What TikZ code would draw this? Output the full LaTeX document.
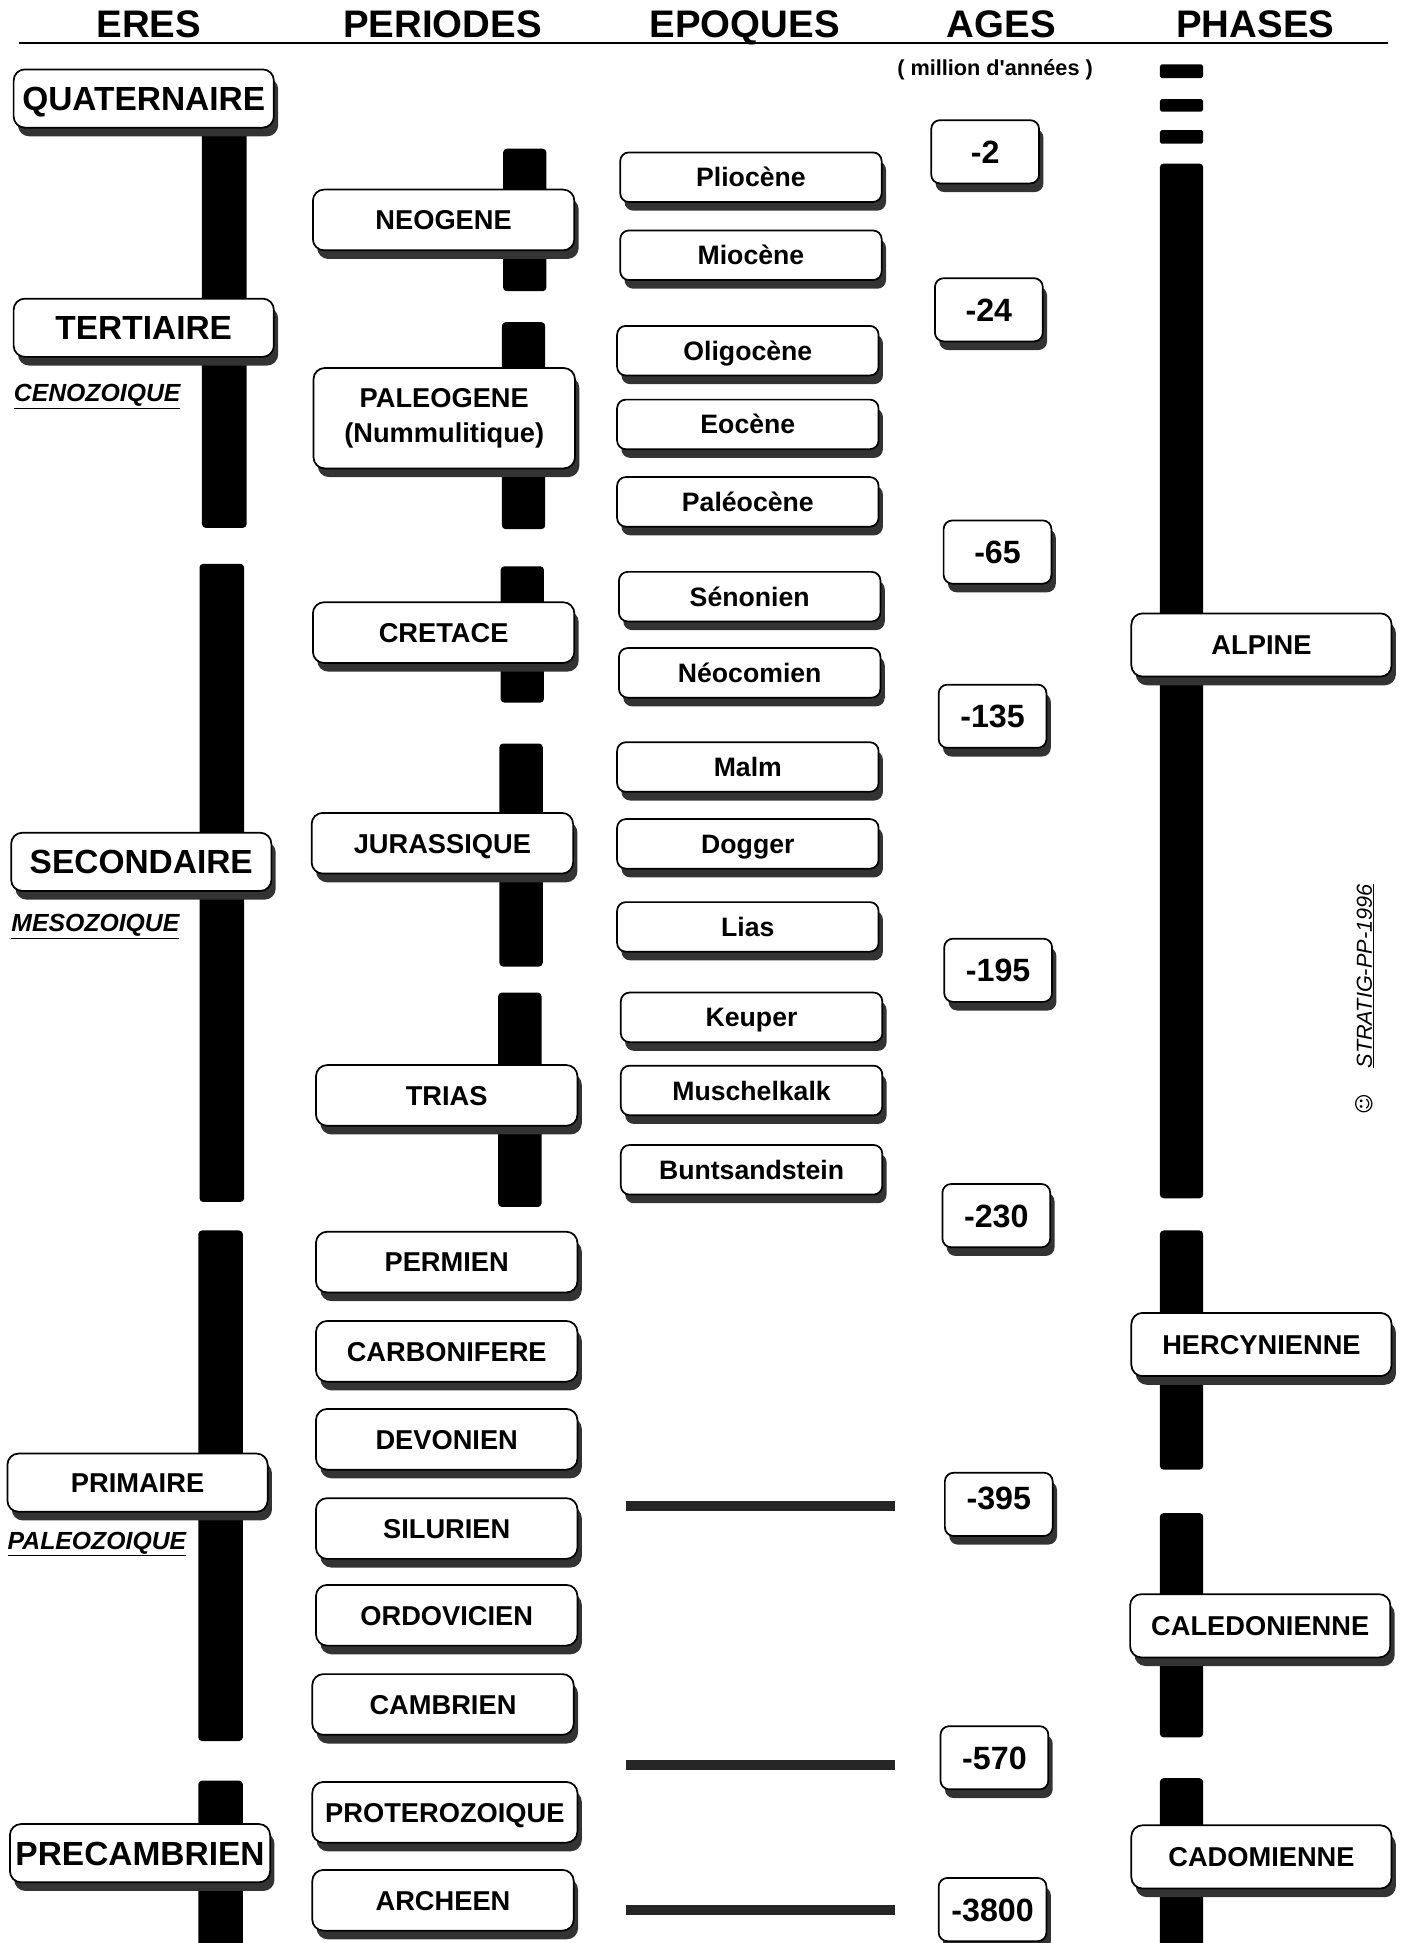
\documentclass[tikz,border=0pt]{standalone}
\usepackage{fontspec}
\setmainfont{Liberation Sans}
\newfontfamily\djv{DejaVu Sans}
\usetikzlibrary{shadows}
\newcommand{\fsz}[1]{\fontsize{#1}{#1}\selectfont}
\tikzset{
  bx/.style={draw=black, line width=1.4pt, fill=white, rounded corners=9pt,
    inner sep=0pt, align=center, text depth=0pt,
    drop shadow={shadow xshift=3.5pt, shadow yshift=-7pt, opacity=1, fill=black!80}},
  erabox/.style={bx, minimum width=210pt, minimum height=47pt, font=\bfseries\fsz{27}, text height=19.3pt},
  perbox/.style={bx, minimum width=211pt, minimum height=49pt, font=\bfseries\fsz{22}, text height=15.75pt},
  epobox/.style={bx, minimum width=211pt, minimum height=40pt, font=\bfseries\fsz{21.5}, text height=15.4pt, rounded corners=7pt},
  agebox/.style={bx, minimum width=87pt, minimum height=51pt, font=\bfseries\fsz{26}, text height=18.6pt, rounded corners=7pt},
  phabox/.style={bx, minimum width=210pt, minimum height=51pt, font=\bfseries\fsz{22}, text height=15.75pt},
  hdr/.style={font=\bfseries\fsz{31}, inner sep=0pt, text height=22.2pt, text depth=0pt},
  sub/.style={font=\bfseries\itshape\fsz{20}, anchor=west, inner sep=0pt},
  vbar/.style={fill=black, rounded corners=3pt},
  hbar/.style={fill=black!85},
}
\begin{document}
\begin{tikzpicture}[x=1pt,y=-1pt]
\useasboundingbox[fill=white] (0,0) rectangle (1132,1568);

% headers
\node[hdr] (hEres) at (120,19.5) {ERES};
\node[hdr] (hPer) at (357,19.5) {PERIODES};
\node[hdr] (hEpo) at (601,19.5) {EPOQUES};
\node[hdr] (hAge) at (808,19.5) {AGES};
\node[hdr] (hPha) at (1013,19.5) {PHASES};
\draw[line width=1.6pt] (15,34.5) -- (1120,34.5);
\node[font=\bfseries\fsz{17.5}, inner sep=0pt] (mill) at (803,56) {( million d\textquotesingle années )};

% ---- ERES bars
\fill[vbar] (163,100) rectangle (199,426);
\fill[vbar] (161,455) rectangle (197,970);
\fill[vbar] (160,993) rectangle (196,1405);
\fill[vbar] (160,1437) rectangle (196,1575);

% ---- PERIODES bars
\fill[vbar] (406,120) rectangle (441,235);
\fill[vbar] (405,260) rectangle (440,427);
\fill[vbar] (404,457) rectangle (439,567);
\fill[vbar] (403,600) rectangle (438,780);
\fill[vbar] (402,801) rectangle (437,974);

% ---- PHASES bars
\fill[vbar, rounded corners=1.5pt] (936,52) rectangle (971,63);
\fill[vbar, rounded corners=1.5pt] (936,80) rectangle (971,90);
\fill[vbar, rounded corners=1.5pt] (936,105) rectangle (971,116);
\fill[vbar] (936,132) rectangle (971,967);
\fill[vbar] (936,993) rectangle (971,1186);
\fill[vbar] (936,1221) rectangle (971,1402);
\fill[vbar] (936,1435) rectangle (971,1575);

% ---- horizontal bars in EPOQUES column
\fill[hbar] (505,1211) rectangle (722,1219);
\fill[hbar] (505,1420) rectangle (722,1428);
\fill[hbar] (505,1537) rectangle (722,1545);

% ---- ERES boxes
\node[erabox] (quat) at (116,79.5) {QUATERNAIRE};
\node[erabox] (tert) at (116,264.5) {TERTIAIRE};
\node[erabox] (seco) at (114,695.5) {SECONDAIRE};
\node[erabox, font=\bfseries\fsz{22}, text height=15.75pt] (prim) at (111,1196.5) {PRIMAIRE};
\node[erabox] (prec) at (113,1495.5) {PRECAMBRIEN};
\node[sub] (ceno) at (11,320) {\underline{CENOZOIQUE}};
\node[sub] (meso) at (9,748) {\underline{MESOZOIQUE}};
\node[sub] (paleo) at (6,1246) {\underline{PALEOZOIQUE}};

% ---- PERIODES boxes
\node[perbox] (neog) at (358,177.5) {NEOGENE};
\node[perbox, minimum height=81pt, text height=, text depth=] (paleog) at (358.5,337.5) {PALEOGENE\\[6pt](Nummulitique)};
\node[perbox] (cret) at (358,510.5) {CRETACE};
\node[perbox] (jura) at (357,680.5) {JURASSIQUE};
\node[perbox] (trias) at (360.5,884) {TRIAS};
\node[perbox] (perm) at (360.5,1018.5) {PERMIEN};
\node[perbox] (carb) at (360.5,1090.5) {CARBONIFERE};
\node[perbox] (devo) at (360.5,1161.5) {DEVONIEN};
\node[perbox] (silu) at (360.5,1233.5) {SILURIEN};
\node[perbox] (ordo) at (360.5,1303.5) {ORDOVICIEN};
\node[perbox] (camb) at (357.5,1375.5) {CAMBRIEN};
\node[perbox, minimum width=214pt] (prot) at (359,1462.5) {PROTEROZOIQUE};
\node[perbox] (arch) at (357.5,1533.5) {ARCHEEN};

% ---- EPOQUES boxes
\node[epobox] (plio) at (606,143) {Pliocène};
\node[epobox] (mio) at (606,206) {Miocène};
\node[epobox] (oligo) at (603.5,283) {Oligocène};
\node[epobox] (eoc) at (603.5,342.5) {Eocène};
\node[epobox] (paleoc) at (603.5,405) {Paléocène};
\node[epobox] (seno) at (605,481.5) {Sénonien};
\node[epobox] (neoc) at (605,543) {Néocomien};
\node[epobox] (malm) at (603.5,619) {Malm};
\node[epobox] (dogg) at (603.5,681) {Dogger};
\node[epobox] (lias) at (603.5,748) {Lias};
\node[epobox] (keup) at (606.5,821) {Keuper};
\node[epobox] (musch) at (606.5,880) {Muschelkalk};
\node[epobox] (bunt) at (606.5,944) {Buntsandstein};

% ---- AGES boxes
\node[agebox] (a2) at (795,122.5) {-2};
\node[agebox] (a24) at (798,250) {-24};
\node[agebox] (a65) at (805,445.5) {-65};
\node[agebox] (a135) at (801,578) {-135};
\node[agebox] (a195) at (805.5,783) {-195};
\node[agebox] (a230) at (804,981) {-230};
\node[agebox, text depth=10pt] (a395) at (806,1214) {-395};
\node[agebox] (a570) at (802.5,1418.5) {-570};
\node[agebox] (a3800) at (801,1541) {-3800};

% ---- PHASES boxes
\node[phabox] (alp) at (1018,520.5) {ALPINE};
\node[phabox] (herc) at (1018,1085) {HERCYNIENNE};
\node[phabox] (cale) at (1017,1312) {CALEDONIENNE};
\node[phabox] (cado) at (1018,1498.5) {CADOMIENNE};

% ---- signature
\node[rotate=90, font=\itshape\fsz{17.5}, inner sep=0pt] (sig) at (1102,788) {\underline{STRATIG-PP-1996}};
\node[rotate=90, font=\djv\fsz{16}, inner sep=0pt] (smile) at (1101,891) {☺};
\end{tikzpicture}
\end{document}
